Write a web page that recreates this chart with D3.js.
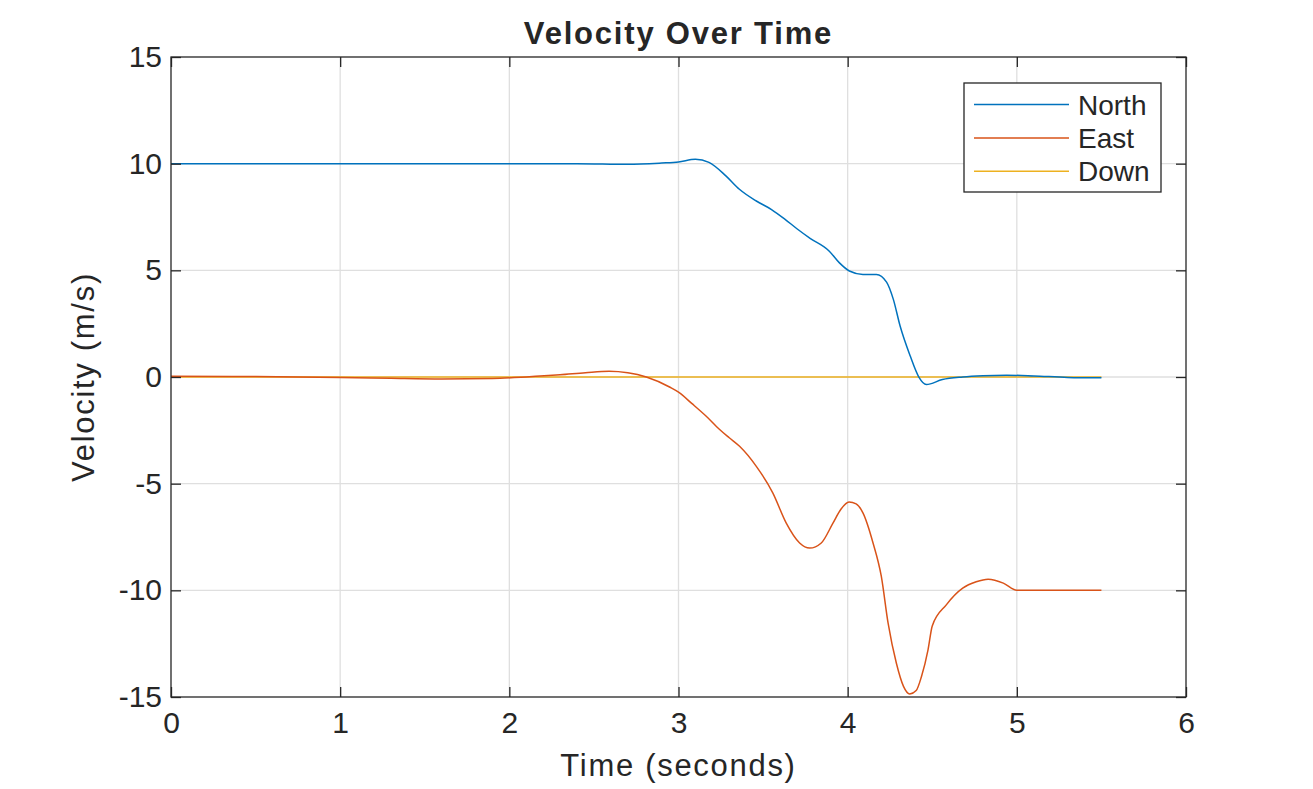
<!DOCTYPE html>
<html>
<head>
<meta charset="utf-8">
<script src="https://cdn.jsdelivr.net/npm/d3@7"></script>
<style>
  body { margin: 0; background: #fff; }
  text { font-family: "Liberation Sans", Arial, sans-serif; fill: #262626; }
</style>
</head>
<body>
<svg id="chart" width="1313" height="789"></svg>
<script>
// time samples (s) and velocities (m/s)
const northTime = [0, 0.5, 1, 1.5, 2, 2.4, 2.7, 2.9, 3.0, 3.1, 3.18, 3.28, 3.36, 3.46, 3.55, 3.63, 3.7, 3.78, 3.89, 3.95, 4.01, 4.09, 4.17, 4.23, 4.27, 4.31, 4.37, 4.42, 4.465, 4.56, 4.68, 4.8, 4.94, 5.1, 5.3, 5.5];
const northVel = [10, 10, 10, 10, 10, 10, 9.97, 10.03, 10.08, 10.21, 10.06, 9.43, 8.8, 8.25, 7.85, 7.39, 6.95, 6.49, 5.91, 5.36, 4.97, 4.81, 4.81, 4.45, 3.64, 2.39, 0.98, 0.01, -0.35, -0.12, 0.0, 0.06, 0.085, 0.05, -0.02, -0.04];

const eastTime = [0, 0.5, 1, 1.3, 1.6, 1.9, 2.1, 2.3, 2.45, 2.59, 2.7, 2.81, 2.95, 3.0, 3.08, 3.164, 3.243, 3.3, 3.361, 3.46, 3.558, 3.637, 3.716, 3.775, 3.844, 3.913, 3.96, 4.008, 4.05, 4.091, 4.15, 4.199, 4.239, 4.288, 4.33, 4.367, 4.405, 4.436, 4.475, 4.5, 4.583, 4.68, 4.76, 4.83, 4.92, 5.0, 5.25, 5.5];
const eastVel = [0.04, 0.02, -0.02, -0.06, -0.09, -0.07, 0, 0.1, 0.2, 0.27, 0.2, 0, -0.48, -0.71, -1.25, -1.84, -2.46, -2.85, -3.25, -4.19, -5.44, -6.85, -7.78, -8.02, -7.78, -6.85, -6.2, -5.86, -5.95, -6.38, -7.78, -9.35, -11.54, -13.42, -14.5, -14.86, -14.7, -14.05, -12.79, -11.67, -10.68, -9.9, -9.6, -9.48, -9.66, -10.0, -10, -10];

const downTime = [0, 1, 2, 3, 4, 5, 5.5];
const downVel = [0, 0, 0, 0, 0, 0, 0];

const seriesNames = ["North", "East", "Down"];
const seriesColors = ["#0072BD", "#D95319", "#EDB120"];
const xTicks = [0, 1, 2, 3, 4, 5, 6];
const yTicks = [-15, -10, -5, 0, 5, 10, 15];

const svg = d3.select("#chart");
const margin = { left: 171, top: 57, right: 127, bottom: 92 };
const width = 1313 - margin.left - margin.right;
const height = 789 - margin.top - margin.bottom;

const x = d3.scaleLinear().domain([0, 6]).range([0, width]);
const y = d3.scaleLinear().domain([-15, 15]).range([height, 0]);

const g = svg.append("g").attr("transform", `translate(${margin.left},${margin.top})`);

// grid
g.append("g").selectAll("line").data(xTicks.slice(1, -1)).join("line")
  .attr("x1", d => x(d)).attr("x2", d => x(d))
  .attr("y1", 0).attr("y2", height)
  .attr("stroke", "#dfdfdf").attr("stroke-width", 1.3);
g.append("g").selectAll("line").data(yTicks.slice(1, -1)).join("line")
  .attr("x1", 0).attr("x2", width)
  .attr("y1", d => y(d)).attr("y2", d => y(d))
  .attr("stroke", "#dfdfdf").attr("stroke-width", 1.3);

// series
const line = d3.line().x(d => x(d[0])).y(d => y(d[1])).curve(d3.curveMonotoneX);
const series = [
  d3.zip(northTime, northVel),
  d3.zip(eastTime, eastVel),
  d3.zip(downTime, downVel)
];
// Down underneath, then North and East
[2, 0, 1].forEach(i => {
  g.append("path")
    .datum(series[i])
    .attr("d", line)
    .attr("fill", "none")
    .attr("stroke", seriesColors[i])
    .attr("stroke-width", 1.5);
});

// axes (ticks inward, box on)
const tickLen = 10;
const fmt = d => String(d);
const styleAxis = sel => {
  sel.select(".domain").remove();
  sel.selectAll(".tick line").attr("stroke", "#262626").attr("stroke-width", 1.3);
  sel.selectAll(".tick text").attr("font-size", 30).attr("fill", "#262626")
    .attr("font-family", "Liberation Sans, Arial, sans-serif");
};

g.append("g").attr("transform", `translate(0,${height})`)
  .call(d3.axisBottom(x).tickValues(xTicks).tickFormat(fmt).tickSizeInner(-tickLen).tickSizeOuter(0).tickPadding(15))
  .call(styleAxis);
g.append("g")
  .call(d3.axisTop(x).tickValues(xTicks).tickFormat("").tickSizeInner(-tickLen).tickSizeOuter(0))
  .call(styleAxis);
g.append("g")
  .call(d3.axisLeft(y).tickValues(yTicks).tickFormat(fmt).tickSizeInner(-tickLen).tickSizeOuter(0).tickPadding(9))
  .call(styleAxis);
g.append("g").attr("transform", `translate(${width},0)`)
  .call(d3.axisRight(y).tickValues(yTicks).tickFormat("").tickSizeInner(-tickLen).tickSizeOuter(0))
  .call(styleAxis);

g.append("rect")
  .attr("width", width).attr("height", height)
  .attr("fill", "none").attr("stroke", "#262626").attr("stroke-width", 1.3);

// labels
svg.append("text")
  .attr("x", margin.left + width / 2).attr("y", 44)
  .attr("text-anchor", "middle")
  .attr("font-size", 31).attr("font-weight", "bold")
  .attr("letter-spacing", 1.8)
  .text("Velocity Over Time");

svg.append("text")
  .attr("x", margin.left + width / 2).attr("y", 776)
  .attr("text-anchor", "middle")
  .attr("font-size", 31)
  .attr("letter-spacing", 1.7)
  .text("Time (seconds)");

svg.append("text")
  .attr("transform", `translate(94,${margin.top + height / 2}) rotate(-90)`)
  .attr("text-anchor", "middle")
  .attr("font-size", 31)
  .attr("letter-spacing", 1.7)
  .text("Velocity (m/s)");

// legend
const legend = svg.append("g").attr("transform", "translate(964,83)");
legend.append("rect")
  .attr("width", 197).attr("height", 109)
  .attr("fill", "#fff").attr("stroke", "#262626").attr("stroke-width", 1.3);
seriesNames.forEach((name, i) => {
  const ly = 21.5 + i * 33.4;
  legend.append("line")
    .attr("x1", 10).attr("x2", 105).attr("y1", ly).attr("y2", ly)
    .attr("stroke", seriesColors[i]).attr("stroke-width", 1.5);
  legend.append("text")
    .attr("x", 114).attr("y", ly + 10)
    .attr("font-size", 28)
    .text(name);
});
</script>
</body>
</html>
